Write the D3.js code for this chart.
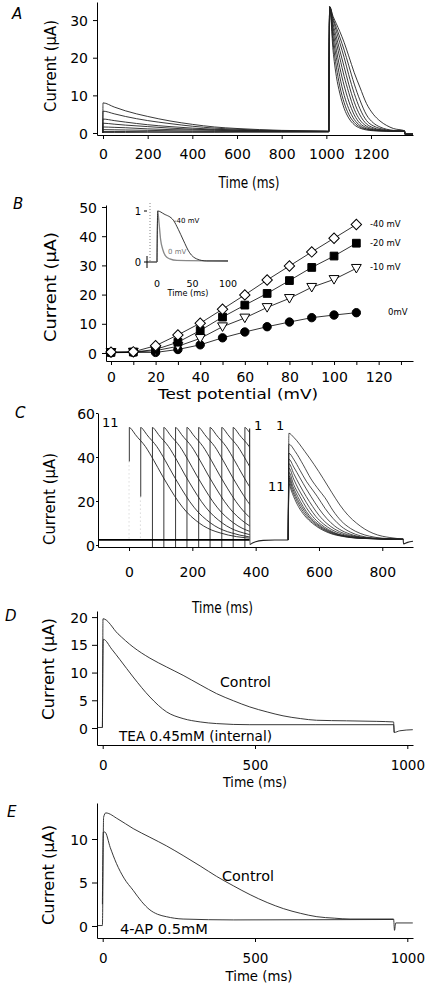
<!DOCTYPE html>
<html><head><meta charset="utf-8">
<script src="https://cdn.jsdelivr.net/npm/d3@7"></script>
<style>
body{margin:0;background:#fff;}
svg{display:block;}
</style></head><body>
<svg id="fig" width="429" height="988"></svg>
<script>
// ================= DATA =================
// ---- Panel A : prepulse currents (time ms) ----
const aPreTimes = [-1, 0, 50, 100, 200, 300, 400, 500, 600, 800, 1000, 1011];
const aPre1 = [0, 8.0, 6.9, 5.9, 4.4, 3.2, 2.3, 1.6, 1.2, 0.7, 0.5, 0.45];
const aPre2 = [0, 5.8, 5.1, 4.4, 3.3, 2.5, 1.8, 1.3, 1.0, 0.6, 0.5, 0.45];
const aPre3 = [0, 3.7, 3.3, 2.9, 2.2, 1.7, 1.3, 1.0, 0.8, 0.5, 0.4, 0.4];
const aPre4 = [0, 2.6, 2.35, 2.1, 1.7, 1.3, 1.0, 0.85, 0.7, 0.5, 0.4, 0.4];
const aPre5 = [0, 1.6, 1.5, 1.4, 1.1, 0.9, 0.8, 0.7, 0.6, 0.45, 0.4, 0.4];
const aPre6 = [0, 0.9, 0.85, 0.8, 0.7, 0.6, 0.5, 0.45, 0.4, 0.4, 0.35, 0.35];
const aPre7 = [0, 0.4, 0.4, 0.4, 0.35, 0.3, 0.3, 0.3, 0.3, 0.3, 0.3, 0.3];
const aPre8 = [0, 0.15, 0.15, 0.15, 0.2, 0.2, 0.2, 0.2, 0.25, 0.25, 0.3, 0.3];
// ---- Panel A : tail currents ----
const aTailTimes = [1011, 1015, 1030, 1045, 1060, 1080, 1100, 1125, 1150, 1180, 1210, 1240, 1270, 1300, 1350, 1352, 1388];
const aTail1 = [0.4, 33.5, 22, 15, 10.6, 6.5, 4.0, 2.2, 1.3, 0.8, 0.6, 0.5, 0.5, 0.5, 0.5, -0.3, -0.3];
const aTail2 = [0.4, 33.5, 24, 17.5, 12.5, 8, 5, 2.8, 1.6, 1.0, 0.7, 0.6, 0.5, 0.5, 0.5, -0.3, -0.3];
const aTail3 = [0.4, 33.5, 25.5, 20, 15, 10, 6.5, 3.6, 2.0, 1.1, 0.8, 0.6, 0.5, 0.5, 0.5, -0.3, -0.3];
const aTail4 = [0.4, 33.5, 27, 22, 17.5, 12.5, 8.5, 4.8, 2.6, 1.4, 0.9, 0.7, 0.6, 0.5, 0.5, -0.3, -0.3];
const aTail5 = [0.4, 33.5, 28, 24, 20, 15, 10.8, 6.3, 3.5, 1.8, 1.1, 0.8, 0.6, 0.5, 0.5, -0.3, -0.3];
const aTail6 = [0.4, 33.5, 29, 25.5, 22, 17.5, 13, 8.2, 4.8, 2.4, 1.4, 0.9, 0.7, 0.6, 0.5, -0.3, -0.3];
const aTail7 = [0.4, 33.5, 30, 27, 24, 20, 15.5, 10.5, 6.5, 3.3, 1.9, 1.2, 0.8, 0.6, 0.5, -0.3, -0.3];
const aTail8 = [0.4, 33.5, 30.5, 28, 25.5, 22, 18, 13, 8.8, 4.8, 2.7, 1.6, 1.0, 0.7, 0.5, -0.3, -0.3];
const aTail9 = [0.4, 33.5, 31, 29, 27, 24, 20.5, 16, 12.2, 7.8, 5.0, 3.2, 2.0, 1.2, 0.6, -0.3, -0.3];
const aXTicks = [0, 200, 400, 600, 800, 1000, 1200];
const aYTicks = [0, 10, 20, 30];

// ---- Panel B : I-V relations (test potential mV, current µA) ----
const bVoltages = [0, 10, 20, 30, 40, 50, 60, 70, 80, 90, 100, 110];
const bMinus40 = [0.3, 0.4, 2.5, 6.2, 10.2, 15, 19.9, 25, 29.8, 34.6, 39.3, 44];
const bMinus20 = [0.2, 0.3, 1.2, 3.7, 7.7, 12.3, 16.4, 20.4, 24.8, 29.3, 33.2, 37.6];
const bMinus10 = [0.2, 0.3, 0.8, 2.3, 5.0, 9.0, 12.0, 15.6, 18.7, 22.5, 25.2, 29];
const bZero = [0.1, 0.2, 0.2, 1.2, 2.8, 5.2, 7.2, 9.0, 10.6, 12.1, 13.0, 13.8];
const bSeriesLabels = ["-40 mV", "-20 mV", "-10 mV", "0mV"];
const bXTicks = [0, 10, 20, 30, 40, 50, 60, 70, 80, 90, 100, 110, 120, 130];
const bYTicks = [0, 10, 20, 30, 40, 50];
// inset (normalised current vs time ms)
const insetMinus40 = [[0, 0], [1, 1.0], [10, 0.94], [23, 0.82], [30, 0.64], [37, 0.43], [46, 0.18], [56, 0.06], [70, 0.02], [100, 0.02]];
const insetZero = [[0, 0], [1, 1.0], [3, 0.75], [5, 0.45], [8, 0.25], [12, 0.12], [18, 0.06], [28, 0.03], [100, 0.02]];
const insetXTicks = [0, 50, 100];
const insetYTicks = [0, 1];

// ---- Panel C : double-pulse protocol ----
const cOnsets = [0, 36, 73, 109, 146, 182, 219, 255, 292, 328, 365];   // traces 11 .. 1
const cRiseFrom = [38, 22, -0.9, -0.9, -0.9, -0.9, -0.9, -0.9, -0.9, -0.9, -0.9];
const cPreDt = [2, 8, 20, 52, 78, 104, 130, 156, 182, 209, 235, 261, 288, 314, 340, 367, 400];
const cPreVal = [53.5, 52.6, 50.2, 44.7, 38.5, 31.8, 25.5, 19.7, 15, 11.4, 8.7, 6.8, 5.5, 4.5, 3.8, 3.3, 3.0];
const cBaseline = [[-98, 2.3], [381, 2.3]];
const cPost = [[381, 53], [381.5, 0.3], [390, 0.9], [400, 1.5], [424, 2.1], [460, 2.3], [503, 2.3]];
const cTest1 = [[503, 2.3], [505, 50.8], [520, 49], [556, 42.4], [585, 36.5], [613, 30.3], [640, 24], [666, 18.2], [692, 13.5], [719, 9.9], [745, 7.2], [771, 5.3], [800, 4.0], [824, 3.4], [866, 2.6]];
const cTest2 = [[503, 2.3], [505, 45.8], [525, 42.5], [550, 36.5], [575, 30], [600, 25], [619, 21.5], [645, 15.5], [670, 11], [700, 7.5], [730, 5.3], [760, 4.0], [800, 3.1], [866, 2.6]];
const cTest3 = [[503, 2.3], [505, 41.7], [520, 39], [540, 34], [560, 29], [580, 25], [595, 22], [620, 16.5], [645, 12], [670, 8.5], [700, 5.8], [730, 4.2], [770, 3.2], [866, 2.6]];
const cTest4 = [[503, 2.3], [505, 39], [520, 35.5], [540, 30.5], [560, 25.5], [575, 22], [600, 16.5], [625, 12], [650, 8.6], [680, 6], [710, 4.4], [750, 3.3], [866, 2.6]];
const cTest5 = [[503, 2.3], [505, 37], [520, 32.5], [540, 27], [560, 22], [580, 17.5], [600, 13.5], [625, 9.8], [650, 7.2], [680, 5.2], [720, 3.8], [770, 3.0], [866, 2.6]];
const cTest6 = [[503, 2.3], [505, 35], [520, 30], [535, 25.5], [549, 22], [570, 17], [590, 13], [615, 9.5], [640, 7], [670, 5.1], [710, 3.8], [770, 3.0], [866, 2.6]];
const cTest7 = [[503, 2.3], [505, 33], [520, 27.5], [540, 22], [560, 17], [580, 13], [605, 9.5], [630, 7], [660, 5], [700, 3.8], [760, 3.0], [866, 2.6]];
const cTest8 = [[503, 2.3], [505, 31.5], [518, 26.5], [533, 22], [550, 17.5], [570, 13.3], [595, 9.8], [620, 7.3], [650, 5.3], [690, 3.9], [750, 3.0], [866, 2.6]];
const cTest9 = [[503, 2.3], [505, 30.5], [516, 26], [528, 22], [545, 17.5], [565, 13.3], [590, 9.8], [615, 7.3], [645, 5.3], [685, 3.9], [745, 3.0], [866, 2.6]];
const cTest10 = [[503, 2.3], [505, 29.5], [514, 25.5], [524, 22], [540, 17.5], [560, 13.3], [585, 9.8], [610, 7.3], [640, 5.3], [680, 3.9], [740, 3.0], [866, 2.6]];
const cTest11 = [[503, 2.3], [505, 28], [512, 25], [520, 22], [535, 17.5], [555, 13.3], [580, 9.8], [605, 7.3], [635, 5.3], [675, 3.9], [735, 3.0], [866, 2.6]];
const cEnd = [[866, 2.6], [867, 0.5], [880, 1.2], [897, 1.7]];
const cXTicks = [0, 200, 400, 600, 800];
const cYTicks = [0, 20, 40, 60];

// ---- Panel D : TEA ----
const dControl = [[-18, 0.1], [-1, 0.1], [1, 19.7], [50, 17], [100, 14.6], [155, 12.6], [210, 11.0], [264, 9.5], [320, 7.8], [374, 6.2], [430, 4.9], [483, 3.8], [540, 2.9], [592, 2.2], [650, 1.7], [702, 1.4], [800, 1.3], [900, 1.2], [955, 1.1], [957, -0.8], [975, -0.5], [1018, -0.3]];
const dTEA = [[-1, 0.1], [2, 16], [30, 14.2], [57, 12.3], [100, 9.2], [155, 5.6], [210, 2.9], [264, 1.7], [320, 1.1], [374, 0.8], [483, 0.6], [700, 0.6], [955, 0.6], [957, -0.8]];
const dXTicks = [0, 500, 1000];
const dYTicks = [0, 5, 10, 15, 20];

// ---- Panel E : 4-AP ----
const eControl = [[-18, 0.05], [-1, 0.05], [3, 12.5], [10, 13.0], [50, 12.3], [100, 11.2], [155, 10.2], [210, 9.2], [264, 8.1], [320, 6.9], [374, 5.7], [430, 4.6], [484, 3.6], [540, 2.7], [593, 2.0], [650, 1.45], [703, 1.07], [760, 0.9], [812, 0.8], [955, 0.8], [958, -0.5], [962, 0.35], [1018, 0.35]];
const e4AP = [[-1, 2.5], [2, 10.8], [7, 10.8], [25, 9.0], [45, 7.2], [70, 5.5], [100, 4.1], [128, 2.8], [155, 1.85], [180, 1.35], [209, 1.07], [264, 0.8], [430, 0.7], [700, 0.72], [955, 0.75]];
const eXTicks = [0, 500, 1000];
const eYTicks = [0, 5, 10];

// ================= DRAWING =================
const F = "'DejaVu Sans', sans-serif";
const svg = d3.select("#fig");
const zip = (ts, vs) => ts.map((t, i) => [t, vs[i]]);
const lineGen = (x, y) => d3.line().x(d => x(d[0])).y(d => y(d[1])).curve(d3.curveMonotoneX);
const TRACE = "#222";

function xAxis(sc, y0, ticks, base, opt = {}) {
  const ax = d3.axisBottom(sc).tickValues(ticks).tickSize(opt.tl ?? 4).tickSizeOuter(0)
    .tickFormat(opt.fmt || (d => d));
  const g = svg.append("g").attr("transform", `translate(0,${y0})`).call(ax);
  g.attr("font-family", F).attr("font-size", opt.fs || 14);
  g.select(".domain").attr("stroke", "#000");
  g.selectAll(".tick line").attr("stroke", "#000");
  g.selectAll(".tick text").attr("y", base - y0).attr("dy", null).attr("fill", "#000");
}
function yAxis(sc, x0, ticks, right, opt = {}) {
  const ax = d3.axisLeft(sc).tickValues(ticks).tickSize(opt.tl ?? 4).tickSizeOuter(0);
  const g = svg.append("g").attr("transform", `translate(${x0},0)`).call(ax);
  g.attr("font-family", F).attr("font-size", opt.fs || 14);
  g.select(".domain").attr("stroke", "#000");
  g.selectAll(".tick line").attr("stroke", "#000");
  g.selectAll(".tick text").attr("x", right - x0).attr("dy", "0.36em").attr("fill", "#000");
}
function label(str, x, y, opt = {}) {
  const t = svg.append("text").attr("x", x).attr("y", y).text(str)
    .attr("font-family", F).attr("font-size", opt.fs || 14)
    .attr("fill", opt.fill || "#000")
    .attr("text-anchor", opt.anchor || "start");
  if (opt.italic) t.attr("font-style", "italic");
  if (opt.len) t.attr("textLength", opt.len).attr("lengthAdjust", "spacingAndGlyphs");
  return t;
}
function yTitle(str, cx, cy, len) {
  svg.append("text").attr("transform", `translate(${cx},${cy}) rotate(-90)`)
    .attr("text-anchor", "middle").attr("dy", "0.36em")
    .attr("font-family", F).attr("font-size", 15)
    .attr("textLength", len).attr("lengthAdjust", "spacingAndGlyphs")
    .text(str);
}
function xTitle(str, cx, base, len, fs = 15) {
  svg.append("text").attr("x", cx - len / 2).attr("y", base)
    .attr("font-family", F).attr("font-size", fs)
    .attr("textLength", len).attr("lengthAdjust", "spacingAndGlyphs")
    .text(str);
}
function trace(data, line, opt = {}) {
  return svg.append("path").datum(data).attr("d", line).attr("fill", "none")
    .attr("stroke", opt.stroke || TRACE).attr("stroke-width", opt.w || 0.9)
    .attr("clip-path", opt.clip || null);
}

// ---------- Panel A ----------
{
  const x = d3.scaleLinear().domain([-26.9, 1388]).range([97, 413]);
  const y = d3.scaleLinear().domain([-0.53, 34.8]).range([135, 2]);
  const ln = lineGen(x, y);
  const pres = [aPre1, aPre2, aPre3, aPre4, aPre5, aPre6, aPre7, aPre8];
  const tails = [aTail1, aTail2, aTail3, aTail4, aTail5, aTail6, aTail7, aTail8, aTail9];
  pres.forEach(v => trace(zip(aPreTimes, v), ln));
  tails.forEach(v => trace(zip(aTailTimes, v), ln));
  xAxis(x, 135, aXTicks, 159);
  yAxis(y, 97, aYTicks, 88);
  label("A", 12, 19, { italic: true, fs: 15 });
  yTitle("Current (µA)", 51, 66, 92);
  xTitle("Time (ms)", 249, 188, 61);
}

// ---------- Panel B ----------
{
  const x = d3.scaleLinear().domain([-2.24, 135.4]).range([106, 413]);
  const y = d3.scaleLinear().domain([-2.74, 50.68]).range([361, 205]);
  const ln = d3.line().x(d => x(d[0])).y(d => y(d[1]));
  const series = [
    { v: bZero, sym: d3.symbolCircle, size: 55, fill: "#000", rot: 0 },
    { v: bMinus10, sym: d3.symbolTriangle, size: 42, fill: "#fff", rot: 180 },
    { v: bMinus20, sym: d3.symbolSquare, size: 60, fill: "#000", rot: 0 },
    { v: bMinus40, sym: d3.symbolSquare, size: 54, fill: "#fff", rot: 45 }
  ];
  series.forEach(s => {
    svg.append("path").datum(zip(bVoltages, s.v)).attr("d", ln)
      .attr("fill", "none").attr("stroke", "#000").attr("stroke-width", 0.8);
  });
  series.forEach(s => {
    svg.append("g").selectAll("path").data(zip(bVoltages, s.v)).join("path")
      .attr("d", d3.symbol().type(s.sym).size(s.size))
      .attr("transform", d => `translate(${x(d[0])},${y(d[1]) + (s.rot === 180 ? -1 : 0)}) rotate(${s.rot})`)
      .attr("fill", s.fill).attr("stroke", "#000").attr("stroke-width", 1);
  });
  xAxis(x, 361, bXTicks, 382, { fmt: d => (d % 20 === 0 && d <= 120) ? d : "" });
  yAxis(y, 106, bYTicks, 97);
  label("B", 13, 209, { italic: true, fs: 15 });
  yTitle("Current (µA)", 51, 287, 110);
  xTitle("Test potential (mV)", 238, 399, 160, 14);
  // series labels
  const labY = [227, 246, 270, 315];
  const labX = [370, 370, 370, 388];
  bSeriesLabels.forEach((s, i) => label(s, labX[i], labY[i], { fs: 8.5 }));

  // inset
  const xi = d3.scaleLinear().domain([0, 100]).range([157, 228]);
  const yi = d3.scaleLinear().domain([0, 1]).range([262, 211]);
  const li = lineGen(xi, yi);
  svg.append("line").attr("x1", 150).attr("x2", 150).attr("y1", 203).attr("y2", 262)
    .attr("stroke", "#666").attr("stroke-width", 0.8).attr("stroke-dasharray", "1,2");
  svg.append("line").attr("x1", 147).attr("x2", 147).attr("y1", 256).attr("y2", 268).attr("stroke", "#000");
  svg.append("line").attr("x1", 144).attr("x2", 157).attr("y1", 262).attr("y2", 262).attr("stroke", "#000");
  svg.append("line").attr("x1", 144).attr("x2", 147).attr("y1", yi(1)).attr("y2", yi(1)).attr("stroke", "#000");
  trace(insetZero, li, { stroke: "#888", w: 1.3 });
  trace(insetMinus40, li, { stroke: "#222", w: 0.9 });
  insetYTicks.forEach(t => label(t, 141, yi(t) + 3.5, { fs: 10, anchor: "end" }));
  insetXTicks.forEach(t => label(t, xi(t), 287, { fs: 9.5, anchor: "middle" }));
  label("Time (ms)", 188, 296, { fs: 8.5, anchor: "middle", len: 41 });
  label("-40 mV", 174, 223, { fs: 7 });
  label("0 mV", 168, 254, { fs: 7, fill: "#777" });
}

// ---------- Panel C ----------
{
  const x = d3.scaleLinear().domain([-98, 897]).range([98, 413]);
  const y = d3.scaleLinear().domain([-0.9, 60]).range([547, 413]);
  const ln = lineGen(x, y);
  svg.append("clipPath").attr("id", "cpre").append("rect")
    .attr("x", 98).attr("y", 405).attr("width", x(381) - 98).attr("height", 145);
  // light gray noise marks under first traces
  svg.append("line").attr("x1", x(0)).attr("x2", x(0)).attr("y1", y(38)).attr("y2", y(2.3))
    .attr("stroke", "#bbb").attr("stroke-width", 0.8).attr("stroke-dasharray", "1,3");
  svg.append("line").attr("x1", x(36)).attr("x2", x(36)).attr("y1", y(22)).attr("y2", y(2.3))
    .attr("stroke", "#bbb").attr("stroke-width", 0.8).attr("stroke-dasharray", "1,3");
  cOnsets.forEach((o, k) => {
    const pts = cPreDt.map((dt, i) => [o + dt, cPreVal[i]]);
    trace(pts, ln, { clip: "url(#cpre)" });
    svg.append("line").attr("x1", x(o + 1)).attr("x2", x(o + 1))
      .attr("y1", y(cRiseFrom[k])).attr("y2", y(cPreVal[0]))
      .attr("stroke", TRACE).attr("stroke-width", 0.9);
  });
  trace(cBaseline, d3.line().x(d => x(d[0])).y(d => y(d[1])), { w: 1.8, stroke: "#000" });
  trace(cPost, ln, { w: 1.1 });
  [cTest11, cTest10, cTest9, cTest8, cTest7, cTest6, cTest5, cTest4, cTest3, cTest2, cTest1]
    .forEach(d => trace(d, ln, { w: 0.8 }));
  trace(cEnd, ln, { w: 1.1 });
  xAxis(x, 547, cXTicks, 577);
  yAxis(y, 98, cYTicks, 95, { tl: 2 });
  label("C", 15, 418, { italic: true, fs: 15 });
  yTitle("Current (µA)", 50, 499, 92);
  xTitle("Time (ms)", 222.5, 613, 61);
  label("11", 102, 427, { fs: 13 });
  label("1", 254, 430, { fs: 13 });
  label("1", 276, 430, { fs: 13 });
  label("11", 268, 491, { fs: 13 });
}

// ---------- Panel D ----------
{
  const x = d3.scaleLinear().domain([-18.7, 1018.7]).range([97, 413]);
  const y = d3.scaleLinear().domain([-3.06, 21.1]).range([745, 611]);
  const ln = lineGen(x, y);
  trace(dTEA, ln);
  trace(dControl, ln);
  xAxis(x, 745, dXTicks, 770, { fs: 13.5 });
  yAxis(y, 97, dYTicks, 88, { tl: 5 });
  label("D", 5, 621, { italic: true, fs: 15 });
  yTitle("Current (µA)", 49, 669, 102);
  xTitle("Time (ms)", 255, 787, 64, 14);
  label("Control", 220, 687, { fs: 14, len: 51 });
  label("TEA 0.45mM (internal)", 119, 741, { fs: 14, len: 153 });
}

// ---------- Panel E ----------
{
  const x = d3.scaleLinear().domain([-18.7, 1018.7]).range([97, 413]);
  const y = d3.scaleLinear().domain([-1.38, 14.14]).range([938, 803]);
  const ln = lineGen(x, y);
  trace(e4AP, ln);
  trace(eControl, ln);
  xAxis(x, 938, eXTicks, 963, { fs: 13.5 });
  yAxis(y, 97, eYTicks, 88, { tl: 5 });
  label("E", 7, 817, { italic: true, fs: 15 });
  yTitle("Current (µA)", 49, 875, 100);
  xTitle("Time (ms)", 259, 981, 67, 14);
  label("Control", 222, 881, { fs: 14, len: 52 });
  label("4-AP 0.5mM", 120, 934, { fs: 14, len: 88 });
}
</script>
</body></html>
